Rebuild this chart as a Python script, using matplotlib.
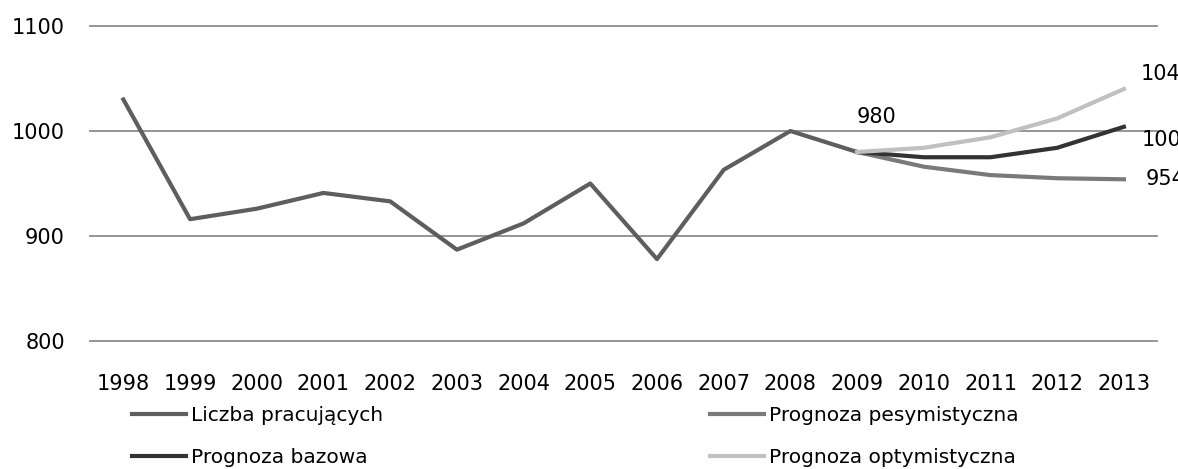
import matplotlib.pyplot as plt

years = list(range(1998, 2014))
pracujacy = [1030, 916, 926, 941, 933, 887, 912, 950, 878, 963, 1000, 980]
prog_years = [2009, 2010, 2011, 2012, 2013]
pesymistyczna = [980, 966, 958, 955, 954]
bazowa = [980, 975, 975, 984, 1004]
optymistyczna = [980, 984, 994, 1012, 1040]

fig = plt.figure(figsize=(11.78, 4.69), dpi=100)
ax = fig.add_axes([0.0764, 0.2729, 0.906, 0.6717])

l1, = ax.plot(years[:len(pracujacy)], pracujacy, color='#5e5e5e', lw=3, label='Liczba pracujących')
l2, = ax.plot(prog_years, pesymistyczna, color='#7a7a7a', lw=3, label='Prognoza pesymistyczna')
l3, = ax.plot(prog_years, bazowa, color='#333333', lw=3, label='Prognoza bazowa')
l4, = ax.plot(prog_years, optymistyczna, color='#c0c0c0', lw=3, label='Prognoza optymistyczna')

ax.set_xlim(1997.5, 2013.5)
ax.set_ylim(800, 1100)
ax.set_yticks([800, 900, 1000, 1100])
ax.set_xticks(years)
ax.yaxis.grid(True, color='#8c8c8c', lw=1.3)
for gl in ax.get_ygridlines():
    gl.set_clip_on(False)
ax.set_axisbelow(True)
for s in ['left', 'right', 'top', 'bottom']:
    ax.spines[s].set_visible(False)
ax.tick_params(length=0, labelsize=15)
ax.tick_params(axis='x', pad=24)
ax.tick_params(axis='y', pad=18)

# data labels (the right ones run off the figure edge, as in the original)
ax.annotate('980', (2009, 980), xytext=(0, 35), textcoords='offset pixels',
            fontsize=15, va='center', ha='left', annotation_clip=False)
ax.annotate(str(optymistyczna[-1]), (2013, optymistyczna[-1]), xytext=(17, 15), textcoords='offset pixels',
            fontsize=15, va='center', ha='left', annotation_clip=False)
ax.annotate(str(bazowa[-1]), (2013, bazowa[-1]), xytext=(18, -13), textcoords='offset pixels',
            fontsize=15, va='center', ha='left', annotation_clip=False)
ax.annotate(str(pesymistyczna[-1]), (2013, pesymistyczna[-1]), xytext=(22, 0), textcoords='offset pixels',
            fontsize=15, va='center', ha='left', annotation_clip=False)

fig.legend([l1, l3, l2, l4], [l.get_label() for l in [l1, l3, l2, l4]],
           ncol=2, loc='upper left', bbox_to_anchor=(132 / 1178, 1 - 406 / 469), frameon=False,
           fontsize=14.5, handlelength=2.7, handletextpad=0.25, columnspacing=16.2,
           labelspacing=1.15, borderaxespad=0, borderpad=0)

fig.savefig('out.png', dpi=100)
